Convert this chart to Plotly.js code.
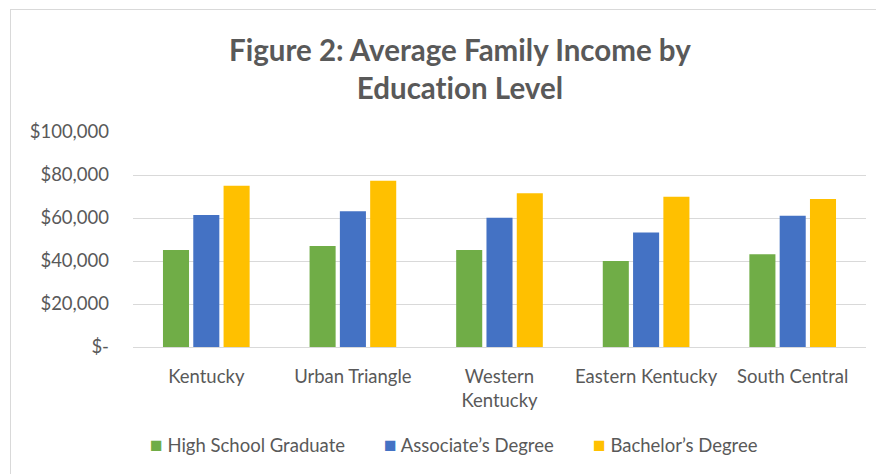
<!DOCTYPE html>
<html>
<head>
<meta charset="utf-8">
<script src="https://cdn.plot.ly/plotly-3.0.1.min.js"></script>
<style>
  html, body { margin: 0; padding: 0; background: #ffffff; }
  #wrap { position: relative; width: 876px; height: 474px; overflow: hidden; }
  #frame { position: absolute; left: 10px; top: 9px; width: 900px; height: 500px; border: 1px solid #d9d9d9; box-sizing: border-box; }
  #chart { position: absolute; left: 0; top: 0; width: 876px; height: 474px; }
  #chart text { font-variant-ligatures: none; font-feature-settings: "liga" 0; }
</style>
</head>
<body>
<div id="wrap">
  <div id="frame"></div>
  <div id="chart"></div>
</div>
<script>
const categories = ["Kentucky", "Urban Triangle", "Western<br>Kentucky", "Eastern Kentucky", "South Central"];
const highSchool = [45100, 47000, 45100, 40000, 43100];
const associate = [61400, 63100, 60100, 53200, 61100];
const bachelor = [75000, 77300, 71500, 69900, 68800];
const seriesNames = ["High School Graduate", "Associate\u2019s Degree", "Bachelor\u2019s Degree"];
const yTickVals = [0, 20000, 40000, 60000, 80000, 100000];
const yTickText = ["$-", "$20,000", "$40,000", "$60,000", "$80,000", "$100,000"];

const colors = ["#70AD47", "#4472C4", "#FFC000"];
const font = "Lato, 'Open Sans', sans-serif";
const gray = "#595959";

const traces = [highSchool, associate, bachelor].map((vals, i) => ({
  type: "bar",
  name: seriesNames[i],
  x: categories,
  y: vals,
  marker: { color: colors[i] },
  hoverinfo: "none",
  showlegend: false
}));

// legend drawn as text annotations (Excel-style compact legend)
const legendX = [0.021, 0.340, 0.625];
const legendAnnotations = seriesNames.map((name, i) => ({
  xref: "paper", yref: "paper",
  x: legendX[i], y: -0.451,
  xanchor: "left", yanchor: "middle",
  showarrow: false,
  text: "<span style='color:" + colors[i] + ";font-size:21px'>\u25A0</span> " + name,
  font: { family: font, size: 18.5, color: gray }
}));

const layout = {
  width: 876,
  height: 474,
  margin: { l: 133, r: 10, t: 132, b: 127 },
  paper_bgcolor: "rgba(0,0,0,0)",
  plot_bgcolor: "rgba(0,0,0,0)",
  barmode: "group",
  bargap: 0.38,
  bargroupgap: 0.14,
  title: {
    text: "<b>Figure 2: Average Family Income by<br>Education Level</b>",
    font: { family: font, size: 29.5, color: gray },
    x: 0.525,
    xanchor: "center",
    y: 0.872,
    yanchor: "middle"
  },
  xaxis: {
    tickfont: { family: font, size: 18.5, color: gray },
    showgrid: false,
    zeroline: false,
    showline: false,
    ticks: "",
    ticklabelstandoff: 16
  },
  yaxis: {
    range: [0, 100000],
    tickvals: yTickVals,
    ticktext: yTickText,
    tickfont: { family: font, size: 18.5, color: gray },
    showgrid: true,
    gridcolor: "#d9d9d9",
    gridwidth: 1,
    zeroline: true,
    zerolinecolor: "#d9d9d9",
    zerolinewidth: 1,
    showline: false,
    ticks: "",
    ticklabelstandoff: 23
  },
  showlegend: false,
  annotations: legendAnnotations,
  font: { family: font, color: gray }
};

Plotly.newPlot("chart", traces, layout, { displayModeBar: false, staticPlot: true });
</script>
</body>
</html>
